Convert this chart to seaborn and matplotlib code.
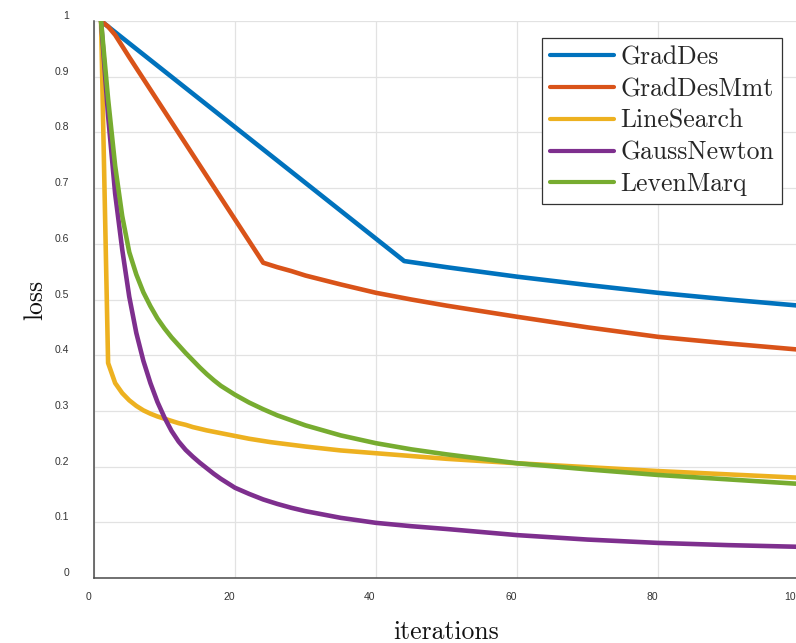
import numpy as np
import pandas as pd
import matplotlib
matplotlib.use("Agg")
import matplotlib.pyplot as plt
import matplotlib.transforms as mtransforms
import seaborn as sns

# ---- data ----
series_names = ["GradDes", "GradDesMmt", "LineSearch", "GaussNewton", "LevenMarq"]

graddes_x = [1, 44, 50, 60, 70, 80, 90, 100]
graddes_y = [1.0, 0.569, 0.558, 0.541, 0.526, 0.512, 0.500, 0.489]

graddesmmt_x = [1, 2, 3, 4, 5, 24, 26, 28, 30, 35, 40, 45, 50, 55, 60, 70, 80, 90, 100]
graddesmmt_y = [1.0, 0.99, 0.975, 0.955, 0.935, 0.566, 0.558, 0.551, 0.543, 0.527,
                0.512, 0.500, 0.489, 0.479, 0.469, 0.450, 0.433, 0.421, 0.410]

linesearch_x = [1, 2, 3, 4, 5, 6, 7, 8, 9, 10, 11, 12, 13, 14, 15, 16, 18, 20, 22, 25,
                30, 35, 40, 50, 60, 70, 80, 90, 100]
linesearch_y = [1.0, 0.386, 0.350, 0.332, 0.319, 0.309, 0.301, 0.295, 0.290, 0.286,
                0.282, 0.278, 0.275, 0.271, 0.268, 0.265, 0.260, 0.255, 0.250, 0.244,
                0.236, 0.229, 0.224, 0.214, 0.206, 0.199, 0.192, 0.186, 0.180]

gaussnewton_x = [1, 2, 3, 4, 5, 6, 7, 8, 9, 10, 11, 12, 13, 14, 15, 16, 17, 18, 19, 20,
                 22, 24, 26, 28, 30, 35, 40, 45, 50, 60, 70, 80, 90, 100]
gaussnewton_y = [1.0, 0.83, 0.69, 0.59, 0.505, 0.44, 0.39, 0.35, 0.316, 0.288, 0.264,
                 0.245, 0.230, 0.218, 0.207, 0.197, 0.187, 0.178, 0.170, 0.162, 0.151,
                 0.141, 0.133, 0.126, 0.120, 0.108, 0.099, 0.093, 0.088, 0.077, 0.069,
                 0.063, 0.059, 0.056]

levenmarq_x = [1, 2, 3, 4, 5, 6, 7, 8, 9, 10, 11, 12, 13, 14, 15, 16, 17, 18, 19, 20,
               22, 24, 26, 28, 30, 35, 40, 45, 50, 60, 70, 80, 90, 100]
levenmarq_y = [1.0, 0.86, 0.74, 0.65, 0.585, 0.545, 0.513, 0.488, 0.466, 0.448, 0.432,
               0.418, 0.404, 0.391, 0.378, 0.366, 0.355, 0.345, 0.337, 0.329, 0.315,
               0.303, 0.292, 0.283, 0.274, 0.256, 0.242, 0.231, 0.222, 0.206, 0.195,
               0.185, 0.177, 0.169]

x_ticks = [0, 20, 40, 60, 80, 100]
x_tick_labels = ["0", "20", "40", "60", "80", "100"]
y_ticks = [0, 0.1, 0.2, 0.3, 0.4, 0.5, 0.6, 0.7, 0.8, 0.9, 1.0]
y_tick_labels = ["0", "0.1", "0.2", "0.3", "0.4", "0.5", "0.6", "0.7", "0.8", "0.9", "1"]

colors = ["#0072BD", "#D95319", "#EDB120", "#7E2F8E", "#77AC30"]

xs = [graddes_x, graddesmmt_x, linesearch_x, gaussnewton_x, levenmarq_x]
ys = [graddes_y, graddesmmt_y, linesearch_y, gaussnewton_y, levenmarq_y]
frames = [pd.DataFrame({"iter": x, "loss": y, "method": n})
          for n, x, y in zip(series_names, xs, ys)]
df = pd.concat(frames, ignore_index=True)

# ---- figure ----
sns.set_theme(style="white")
plt.rcParams["axes.unicode_minus"] = False

W, H = 796, 643
fig = plt.figure(figsize=(W / 100, H / 100), dpi=100)
ax = fig.add_axes([94 / W, (H - 578) / H, 705 / W, 557 / H])

sns.lineplot(data=df, x="iter", y="loss", hue="method", hue_order=series_names,
             palette=colors, estimator=None, sort=True, linewidth=3.3, ax=ax,
             legend=True)
for ln in ax.get_lines():
    ln.set_solid_joinstyle("round")

ax.set_xlim(0, 100)
ax.set_ylim(0, 1)
ax.set_xticks(x_ticks)
ax.set_xticklabels(x_tick_labels)
ax.set_yticks(y_ticks)
ax.set_yticklabels(y_tick_labels)

ax.grid(True, color="#e2e2e2", linewidth=0.9)
ax.set_axisbelow(True)
for s in ["top", "right"]:
    ax.spines[s].set_visible(False)
for s in ["left", "bottom"]:
    ax.spines[s].set_color("#4a4a4a")
    ax.spines[s].set_linewidth(1.1)

ax.tick_params(axis="both", direction="in", length=5, width=0.9, color="#333333",
               labelsize=7.5, labelcolor="#333333")
ax.tick_params(axis="y", pad=18)
ax.tick_params(axis="x", pad=10)
for lab in ax.get_xticklabels() + ax.get_yticklabels():
    lab.set_fontfamily("Liberation Sans")

dx = mtransforms.ScaledTranslation(-6 / 100, 0, fig.dpi_scale_trans)
for lab in ax.get_xticklabels():
    lab.set_transform(lab.get_transform() + dx)
dy = mtransforms.ScaledTranslation(0, 6 / 100, fig.dpi_scale_trans)
for lab in ax.get_yticklabels():
    lab.set_transform(lab.get_transform() + dy)

ax.set_xlabel("iterations", fontfamily="cmr10", fontsize=18.5, color="#111111")
ax.set_ylabel("loss", fontfamily="cmr10", fontsize=18.5, color="#111111")
ax.xaxis.set_label_coords(0.5, -0.075)
ax.yaxis.set_label_coords(-0.067, 0.5)

handles, labels = ax.get_legend_handles_labels()
for h in handles:
    h.set_linewidth(3.0)
leg = ax.legend(handles, labels, loc="upper right",
                bbox_to_anchor=(782 / W, 1 - 38 / H), bbox_transform=fig.transFigure,
                borderaxespad=0, frameon=True, fancybox=False, framealpha=1,
                edgecolor="#333333", facecolor="white",
                prop={"family": "cmr10", "size": 18.5},
                handlelength=2.5, handletextpad=0.25, borderpad=0.3,
                labelspacing=0.31)
leg.get_frame().set_linewidth(0.9)

fig.savefig("out.png", dpi=100)
